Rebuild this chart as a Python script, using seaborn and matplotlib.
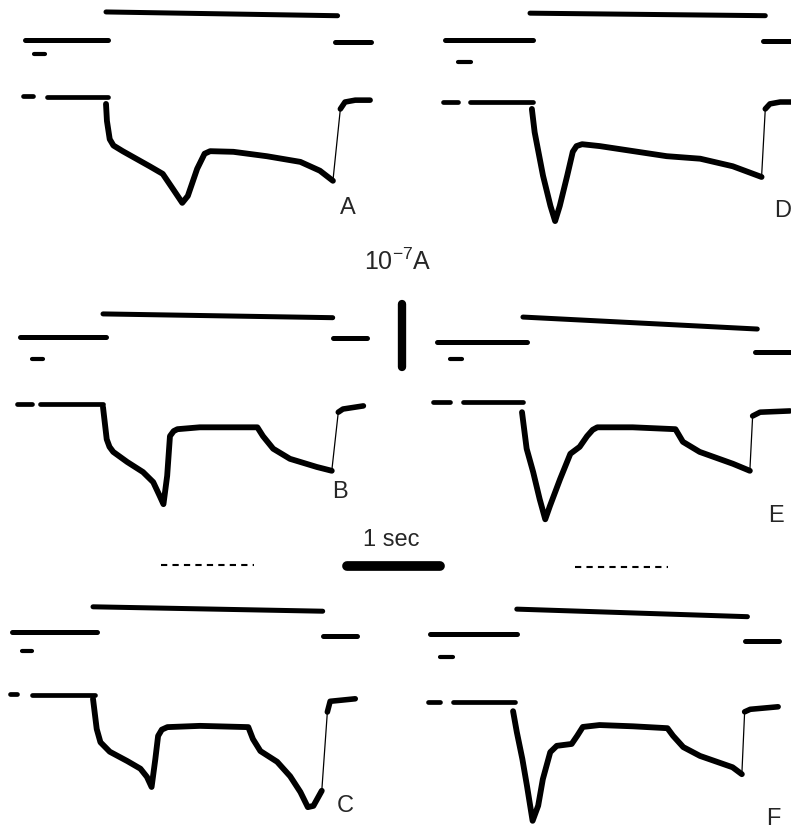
"""
Membrane current records A-F with light-stimulus monitor traces
"""
import numpy as np
import pandas as pd
import matplotlib
matplotlib.use("Agg")
import matplotlib.pyplot as plt
import seaborn as sns

# calibration: pixels per second and per 1e-7 A (from the scale bars)
SEC_PX = 93.0
AMP_PX = 63.0

# ---- record A ----  time (s) from stimulus onset, current (x 1e-7 A)
a_t = [0, 0.01, 0.04, 0.08, 0.18, 0.47, 0.61, 0.72, 0.82, 0.88, 0.98, 1.06, 1.12, 1.37, 1.73, 2.09, 2.30, 2.44]
a_i = [-0.11, -0.38, -0.67, -0.77, -0.86, -1.10, -1.22, -1.46, -1.68, -1.57, -1.14, -0.90, -0.86, -0.87, -0.94, -1.03, -1.17, -1.33]
a_rec_t = [2.52, 2.57, 2.68, 2.84]
a_rec_i = [-0.19, -0.08, -0.05, -0.05]
a_mon = [(-0.87, 0.02, 0.90, 0.90), (0.0, 2.49, 1.35, 1.29), (2.46, 2.85, 0.87, 0.87)]
a_pre = [(-0.89, -0.78, 0.02), (-0.63, 0.02, 0.0)]
a_dash = (-0.77, -0.66, 0.68)

# ---- record B ----
b_t = [0, 0.04, 0.07, 0.11, 0.26, 0.43, 0.54, 0.61, 0.65, 0.69, 0.72, 0.76, 0.80, 1.04, 1.66, 1.72, 1.83, 2.01, 2.30, 2.46]
b_i = [-0.05, -0.56, -0.68, -0.76, -0.92, -1.08, -1.24, -1.46, -1.59, -1.14, -0.51, -0.43, -0.40, -0.37, -0.37, -0.51, -0.71, -0.87, -1.00, -1.06]
b_rec_t = [2.53, 2.58, 2.80]
b_rec_i = [-0.13, -0.08, -0.03]
b_mon = [(-0.89, 0.03, 1.06, 1.06), (0.0, 2.47, 1.43, 1.37), (2.47, 2.84, 1.05, 1.05)]
b_pre = [(-0.92, -0.76, 0.0), (-0.68, 0.0, 0.0)]
b_dash = (-0.76, -0.65, 0.71)

# ---- record C ----
c_t = [0, 0.04, 0.08, 0.18, 0.37, 0.51, 0.58, 0.63, 0.67, 0.70, 0.74, 0.80, 1.15, 1.67, 1.72, 1.80, 1.98, 2.12, 2.23, 2.31, 2.37, 2.46]
c_i = [-0.06, -0.54, -0.75, -0.90, -1.05, -1.17, -1.30, -1.46, -1.02, -0.65, -0.55, -0.51, -0.49, -0.51, -0.70, -0.89, -1.06, -1.29, -1.54, -1.78, -1.76, -1.52]
c_rec_t = [2.52, 2.55, 2.82]
c_rec_i = [-0.27, -0.10, -0.06]
c_mon = [(-0.87, 0.04, 1.00, 1.00), (0.0, 2.47, 1.40, 1.33), (2.47, 2.84, 0.94, 0.94)]
c_pre = [(-0.89, -0.82, 0.02), (-0.66, 0.02, 0.0)]
c_dash = (-0.76, -0.66, 0.70)

# ---- record D ----
d_t = [0.02, 0.05, 0.14, 0.22, 0.27, 0.32, 0.40, 0.46, 0.50, 0.56, 0.75, 1.11, 1.47, 1.83, 2.18, 2.49]
d_i = [-0.11, -0.48, -1.17, -1.65, -1.89, -1.65, -1.17, -0.79, -0.70, -0.67, -0.70, -0.78, -0.86, -0.90, -1.02, -1.19]
d_rec_t = [2.53, 2.58, 2.69, 2.81]
d_rec_i = [-0.11, -0.03, 0.0, 0.0]
d_mon = [(-0.91, 0.03, 0.98, 0.98), (0.0, 2.53, 1.41, 1.37), (2.51, 2.81, 0.97, 0.97)]
d_pre = [(-0.94, -0.77, 0.0), (-0.65, 0.03, 0.0)]
d_dash = (-0.77, -0.63, 0.63)

# ---- record E ----
e_t = [0, 0.05, 0.12, 0.19, 0.25, 0.30, 0.41, 0.52, 0.62, 0.70, 0.76, 0.81, 1.19, 1.65, 1.73, 1.91, 2.27, 2.45]
e_i = [-0.13, -0.71, -1.08, -1.51, -1.83, -1.62, -1.19, -0.79, -0.68, -0.51, -0.41, -0.37, -0.37, -0.40, -0.60, -0.76, -0.95, -1.06]
e_rec_t = [2.48, 2.56, 2.88]
e_rec_i = [-0.19, -0.13, -0.11]
e_mon = [(-0.91, 0.05, 0.98, 0.98), (0.01, 2.53, 1.38, 1.19), (2.51, 2.89, 0.83, 0.83)]
e_pre = [(-0.96, -0.77, 0.03), (-0.63, 0.01, 0.03)]
e_dash = (-0.77, -0.65, 0.71)

# ---- record F ----
f_t = [-0.01, 0.03, 0.09, 0.14, 0.20, 0.26, 0.31, 0.39, 0.46, 0.62, 0.68, 0.74, 0.92, 1.28, 1.65, 1.71, 1.82, 2.00, 2.35, 2.45]
f_i = [-0.13, -0.46, -0.89, -1.32, -1.87, -1.63, -1.21, -0.78, -0.68, -0.65, -0.52, -0.38, -0.35, -0.37, -0.40, -0.52, -0.70, -0.84, -1.02, -1.13]
f_rec_t = [2.48, 2.54, 2.84]
f_rec_i = [-0.14, -0.10, -0.06]
f_mon = [(-0.90, 0.03, 1.10, 1.10), (0.03, 2.51, 1.49, 1.37), (2.48, 2.85, 0.98, 0.98)]
f_pre = [(-0.92, -0.80, 0.02), (-0.66, 0.01, 0.01)]
f_dash = (-0.80, -0.66, 0.73)

labels = ["A", "B", "C", "D", "E", "F"]
records = {
    "A": (a_t, a_i, a_rec_t, a_rec_i, a_mon, a_pre, a_dash),
    "B": (b_t, b_i, b_rec_t, b_rec_i, b_mon, b_pre, b_dash),
    "C": (c_t, c_i, c_rec_t, c_rec_i, c_mon, c_pre, c_dash),
    "D": (d_t, d_i, d_rec_t, d_rec_i, d_mon, d_pre, d_dash),
    "E": (e_t, e_i, e_rec_t, e_rec_i, e_mon, e_pre, e_dash),
    "F": (f_t, f_i, f_rec_t, f_rec_i, f_mon, f_pre, f_dash),
}

# layout (figure pixels): stimulus onset x, current baseline y, label spot
origin = {"A": (106, 98), "B": (103, 405), "C": (93, 696),
          "D": (530, 103), "E": (522, 405), "F": (514, 704)}
label_xy = {"A": (348, 208), "B": (340, 492), "C": (345, 806),
            "D": (783, 211), "E": (776, 516), "F": (773, 819)}

cal_amp = 1.0   # 1e-7 A
cal_sec = 1.0   # 1 s
dotted_sec = 1.0

sns.set_theme(style="white")
plt.rcParams["font.family"] = ["Liberation Sans", "DejaVu Sans"]

fig = plt.figure(figsize=(7.91, 8.29), dpi=100)
ax = fig.add_axes([0, 0, 1, 1])


def draw(xs, ys, lw):
    df = pd.DataFrame({"x": np.asarray(xs, float), "y": np.asarray(ys, float)})
    sns.lineplot(data=df, x="x", y="y", sort=False, estimator=None, color="black",
                 linewidth=lw, ax=ax, legend=False,
                 solid_capstyle="round", solid_joinstyle="round")


for lab in labels:
    t, i, rt, ri, mon, pre, dash = records[lab]
    x0, y0 = origin[lab]
    px = lambda tt: x0 + np.asarray(tt, float) * SEC_PX
    py = lambda ii: y0 - np.asarray(ii, float) * AMP_PX

    # stimulus monitor
    for s0, s1, l0, l1 in mon:
        draw(px([s0, s1]), py([l0, l1]), 3.6)
    draw(px(dash[:2]), py([dash[2], dash[2]]), 3.0)
    # resting current before stimulus
    for s0, s1, lv in pre:
        draw(px([s0, s1]), py([lv, lv]), 3.4)
    # response
    draw(px(t), py(i), 4.2)
    draw(px([t[-1], rt[0]]), py([i[-1], ri[0]]), 0.9)
    draw(px(rt), py(ri), 4.0)

    ax.text(*label_xy[lab], lab, ha="center", va="center", fontsize=17)

# calibration bars
draw([402, 402], [305, 305 + cal_amp * AMP_PX], 6.0)
ax.text(398, 262, r"$\mathregular{10^{-7}}$A", ha="center", va="center", fontsize=18)
draw([347, 347 + cal_sec * SEC_PX], [567, 567], 7.0)
ax.text(391, 540, "1 sec", ha="center", va="center", fontsize=17)

for xs, yd in [(161, 566), (575, 568)]:
    sns.lineplot(x=[xs, xs + dotted_sec * SEC_PX], y=[yd, yd], color="black", linewidth=1.5,
                 ax=ax, legend=False, linestyle=(0, (3, 2.5)))

ax.set_xlim(0, 791)
ax.set_ylim(829, 0)
ax.axis("off")

fig.savefig("out.png", dpi=100)
